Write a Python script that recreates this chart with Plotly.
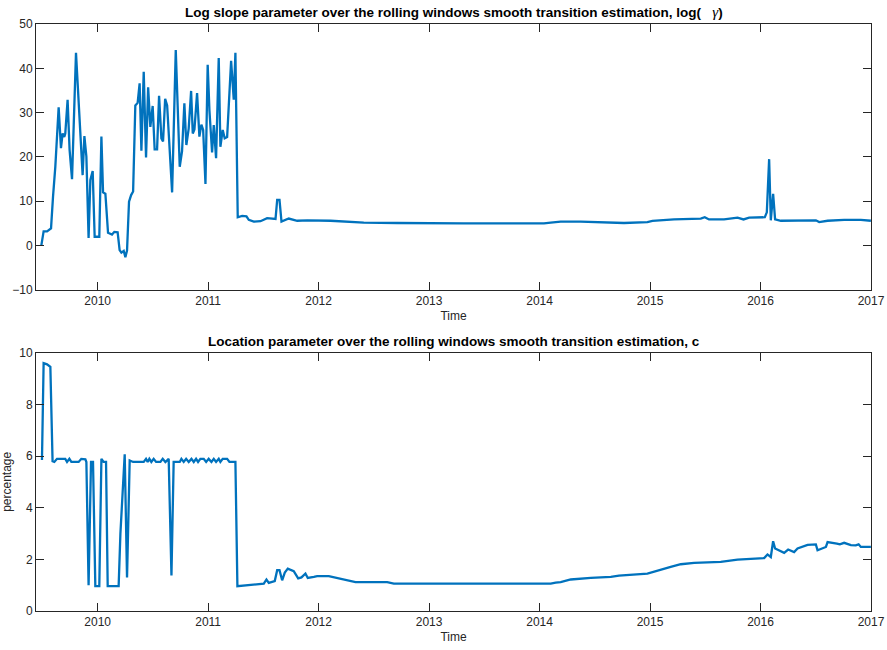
import plotly.graph_objects as go

# ---- Data: log slope parameter (top panel) ----
gamma_time = [
    2009.490, 2009.511, 2009.542, 2009.578, 2009.596, 2009.617, 2009.647, 2009.668, 2009.683, 2009.698,
    2009.707, 2009.728, 2009.746, 2009.768, 2009.804, 2009.828, 2009.843, 2009.864, 2009.880, 2009.898,
    2009.918, 2009.934, 2009.955, 2009.973, 2010.015, 2010.034, 2010.049, 2010.070, 2010.094, 2010.115,
    2010.130, 2010.151, 2010.181, 2010.199, 2010.215, 2010.236, 2010.251, 2010.266, 2010.284, 2010.303,
    2010.321, 2010.341, 2010.362, 2010.380, 2010.396, 2010.417, 2010.438, 2010.457, 2010.477, 2010.498,
    2010.516, 2010.538, 2010.556, 2010.577, 2010.592, 2010.611, 2010.629, 2010.674, 2010.707, 2010.743,
    2010.764, 2010.785, 2010.803, 2010.824, 2010.846, 2010.861, 2010.876, 2010.900, 2010.921, 2010.939,
    2010.955, 2010.976, 2010.996, 2011.012, 2011.036, 2011.051, 2011.072, 2011.096, 2011.111, 2011.132,
    2011.150, 2011.172, 2011.208, 2011.232, 2011.247, 2011.268, 2011.308, 2011.347, 2011.368, 2011.413,
    2011.474, 2011.534, 2011.610, 2011.625, 2011.646, 2011.664, 2011.730, 2011.806, 2011.899, 2012.108,
    2012.409, 2012.712, 2013.014, 2013.313, 2013.618, 2014.040, 2014.101, 2014.191, 2014.372, 2014.554,
    2014.764, 2014.976, 2015.022, 2015.217, 2015.459, 2015.495, 2015.534, 2015.670, 2015.792, 2015.846,
    2015.897, 2016.039, 2016.057, 2016.078, 2016.093, 2016.114, 2016.132, 2016.184, 2016.365, 2016.501,
    2016.531, 2016.607, 2016.757, 2016.908, 2016.999,
]
gamma_values = [
    0.0, 3.2, 3.2, 3.9, 11.0, 17.8, 31.2, 22.0, 25.3, 24.5,
    25.3, 32.9, 21.6, 15.0, 43.5, 32.9, 28.0, 15.9, 24.7, 20.1,
    1.7, 14.8, 16.8, 2.0, 2.0, 24.6, 12.0, 11.7, 2.9, 2.7,
    2.5, 3.1, 3.0, -1.0, -1.6, -1.2, -2.6, -1.1, 9.9, 11.4,
    12.2, 31.6, 32.2, 36.6, 21.4, 39.2, 19.9, 35.7, 26.8, 31.5,
    21.7, 21.7, 33.8, 24.2, 23.5, 33.1, 31.6, 12.0, 44.1, 17.8,
    21.3, 32.1, 22.7, 26.4, 34.9, 25.3, 26.2, 34.4, 24.6, 27.3,
    26.1, 13.9, 40.8, 30.4, 21.0, 27.2, 19.7, 42.3, 22.3, 26.1,
    24.2, 24.5, 41.7, 32.9, 43.5, 6.4, 6.7, 6.6, 5.8, 5.4,
    5.5, 6.2, 6.0, 10.3, 10.3, 5.4, 6.1, 5.6, 5.7, 5.6,
    5.2, 5.1, 5.0, 5.0, 5.0, 5.0, 5.2, 5.4, 5.4, 5.3,
    5.1, 5.3, 5.6, 5.9, 6.1, 6.4, 5.9, 5.9, 6.3, 5.9,
    6.3, 6.4, 7.5, 19.5, 5.7, 11.7, 5.9, 5.6, 5.6, 5.7,
    5.3, 5.6, 5.8, 5.8, 5.6,
]

# ---- Data: location parameter c (bottom panel) ----
c_time = [
    2009.496, 2009.511, 2009.542, 2009.572, 2009.592, 2009.608, 2009.632, 2009.707, 2009.723, 2009.744,
    2009.762, 2009.828, 2009.852, 2009.889, 2009.898, 2009.918, 2009.940, 2009.958, 2009.979, 2010.015,
    2010.034, 2010.054, 2010.076, 2010.091, 2010.190, 2010.206, 2010.245, 2010.266, 2010.290, 2010.321,
    2010.417, 2010.438, 2010.453, 2010.468, 2010.486, 2010.507, 2010.529, 2010.568, 2010.589, 2010.613,
    2010.643, 2010.668, 2010.688, 2010.743, 2010.758, 2010.779, 2010.801, 2010.824, 2010.849, 2010.870,
    2010.891, 2010.909, 2010.930, 2010.960, 2010.982, 2011.005, 2011.030, 2011.051, 2011.072, 2011.096,
    2011.111, 2011.132, 2011.172, 2011.193, 2011.247, 2011.265, 2011.504, 2011.528, 2011.549, 2011.603,
    2011.625, 2011.646, 2011.670, 2011.694, 2011.721, 2011.746, 2011.775, 2011.815, 2011.845, 2011.881,
    2011.902, 2011.957, 2011.987, 2012.092, 2012.168, 2012.244, 2012.334, 2012.470, 2012.621, 2012.681,
    2013.014, 2013.618, 2014.101, 2014.146, 2014.191, 2014.282, 2014.402, 2014.464, 2014.645, 2014.719,
    2014.976, 2015.052, 2015.097, 2015.187, 2015.278, 2015.399, 2015.640, 2015.792, 2016.033, 2016.063,
    2016.093, 2016.114, 2016.132, 2016.214, 2016.250, 2016.283, 2016.304, 2016.335, 2016.426, 2016.501,
    2016.516, 2016.592, 2016.607, 2016.691, 2016.718, 2016.757, 2016.818, 2016.862, 2016.888, 2016.908,
    2016.999,
]
c_values = [
    5.85, 9.6, 9.55, 9.45, 5.8, 5.77, 5.89, 5.89, 5.77, 5.89,
    5.77, 5.77, 5.89, 5.87, 5.77, 1.0, 5.77, 5.77, 0.96, 0.96,
    5.89, 5.77, 5.77, 0.96, 0.96, 3.0, 6.07, 1.3, 5.83, 5.77,
    5.77, 5.89, 5.77, 5.89, 5.77, 5.89, 5.77, 5.77, 5.89, 5.77,
    5.89, 1.38, 5.77, 5.77, 5.89, 5.77, 5.89, 5.77, 5.89, 5.77,
    5.89, 5.77, 5.89, 5.89, 5.77, 5.89, 5.77, 5.89, 5.77, 5.89,
    5.77, 5.89, 5.89, 5.77, 5.77, 0.96, 1.06, 1.22, 1.09, 1.16,
    1.58, 1.58, 1.19, 1.49, 1.64, 1.58, 1.54, 1.26, 1.30, 1.45,
    1.28, 1.32, 1.35, 1.35, 1.28, 1.23, 1.12, 1.12, 1.12, 1.06,
    1.06, 1.06, 1.06, 1.10, 1.12, 1.22, 1.27, 1.28, 1.32, 1.37,
    1.45, 1.55, 1.58, 1.71, 1.81, 1.86, 1.90, 1.99, 2.05, 2.19,
    2.09, 2.70, 2.42, 2.25, 2.38, 2.33, 2.28, 2.42, 2.56, 2.58,
    2.35, 2.48, 2.67, 2.61, 2.58, 2.64, 2.55, 2.54, 2.58, 2.48,
    2.48,
]

year_ticks = [2010, 2011, 2012, 2013, 2014, 2015, 2016, 2017]
gamma_ticks = [-10, 0, 10, 20, 30, 40, 50]
c_ticks = [0, 2, 4, 6, 8, 10]

title_top = ("Log slope parameter over the rolling windows smooth transition estimation, log(&nbsp;&nbsp;&nbsp;"
             "<span style=\"font-family:'Liberation Serif', 'Times New Roman', serif; font-weight:normal; font-size:15px\"><i>γ</i></span>)")
title_bottom = "Location parameter over the rolling windows smooth transition estimation, c"

LINE = "#0072BD"
AX = "#262626"
FONT = "Liberation Sans, Arial, Helvetica, sans-serif"

fig = go.Figure()
fig.add_trace(go.Scatter(x=gamma_time, y=gamma_values, mode="lines",
                         line=dict(color=LINE, width=2.3), xaxis="x", yaxis="y",
                         showlegend=False))
fig.add_trace(go.Scatter(x=c_time, y=c_values, mode="lines",
                         line=dict(color=LINE, width=2.3), xaxis="x2", yaxis="y2",
                         showlegend=False))

axis_common = dict(showline=True, linecolor=AX, linewidth=1, mirror="ticks",
                   ticks="inside", ticklen=8, tickcolor=AX, tickwidth=1,
                   showgrid=False, zeroline=False, automargin=False,
                   tickfont=dict(family=FONT, size=12, color=AX))

fig.update_layout(
    width=887, height=650,
    margin=dict(l=36, r=16, t=24, b=39),
    paper_bgcolor="white", plot_bgcolor="white",
    font=dict(family=FONT, color=AX),
    xaxis=dict(domain=[0, 1], anchor="y", range=[2009.442, 2017.0],
               tickvals=year_ticks, ticktext=[str(t) for t in year_ticks],
               title=dict(text="Time", font=dict(size=12, family=FONT, color=AX), standoff=4),
               **axis_common),
    yaxis=dict(domain=[0.547, 1.0], anchor="x", range=[-10, 50],
               tickvals=gamma_ticks, **axis_common),
    xaxis2=dict(domain=[0, 1], anchor="y2", range=[2009.442, 2017.0],
                tickvals=year_ticks, ticktext=[str(t) for t in year_ticks],
                title=dict(text="Time", font=dict(size=12, family=FONT, color=AX), standoff=4),
                **axis_common),
    yaxis2=dict(domain=[0.0, 0.44], anchor="x2", range=[0, 10],
                tickvals=c_ticks,
                title=dict(text="percentage", font=dict(size=12, family=FONT, color=AX), standoff=6),
                **axis_common),
    annotations=[
        dict(text="<b>" + title_top + "</b>", xref="paper", yref="paper",
             x=0.5, y=1.0, xanchor="center", yanchor="bottom", yshift=2,
             showarrow=False, font=dict(family=FONT, size=13.5, color="#000000")),
        dict(text="<b>" + title_bottom + "</b>", xref="paper", yref="paper",
             x=0.5, y=0.44, xanchor="center", yanchor="bottom", yshift=2,
             showarrow=False, font=dict(family=FONT, size=13.5, color="#000000")),
    ],
)

fig.write_html("out.html", config={"displayModeBar": False},
               post_script="document.body.style.margin='0';document.body.style.padding='0';")
